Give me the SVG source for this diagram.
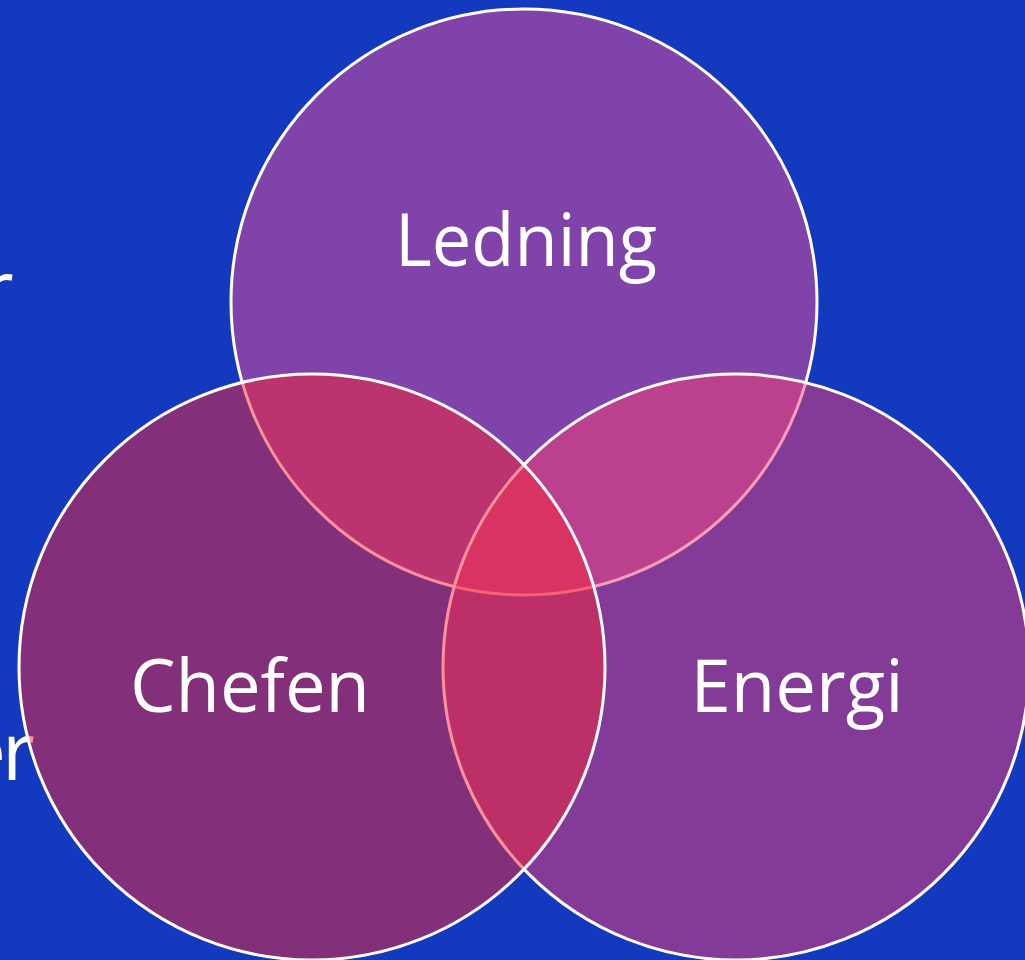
<svg xmlns="http://www.w3.org/2000/svg" width="1025" height="960" viewBox="0 0 1025 960">
  <style>
    .bgtext { font-family: "Open Sans", "Liberation Sans", sans-serif; font-size: 80px; fill: #ffffff; }
    .circle { stroke: #ffffff; stroke-width: 3; fill-opacity: 0.5; }
    .label { font-family: "Open Sans", "Liberation Sans", sans-serif; font-size: 74px; fill: #ffffff; text-anchor: middle; }
  </style>
  <rect x="0" y="0" width="1025" height="960" fill="#1339BF"/>
  <g id="background-text">
    <text class="bgtext" x="-19" y="318">r</text>
    <text class="bgtext" x="-39" y="780" letter-spacing="-4">er</text>
  </g>
  <g id="connectors"></g>
  <g id="node-ledning">
    <circle class="circle" cx="524" cy="302" r="293" fill="#ED4E96"/>
    <text class="label" x="526" y="266" textLength="262" lengthAdjust="spacingAndGlyphs">Ledning</text>
  </g>
  <g id="node-energi">
    <circle class="circle" cx="736" cy="667" r="293" fill="#F53E72"/>
    <text class="label" x="797" y="712" textLength="213" lengthAdjust="spacingAndGlyphs">Energi</text>
  </g>
  <g id="node-chefen">
    <circle class="circle" cx="312" cy="667" r="293" fill="#F52636"/>
    <text class="label" x="250" y="712" textLength="240" lengthAdjust="spacingAndGlyphs">Chefen</text>
  </g>
</svg>
